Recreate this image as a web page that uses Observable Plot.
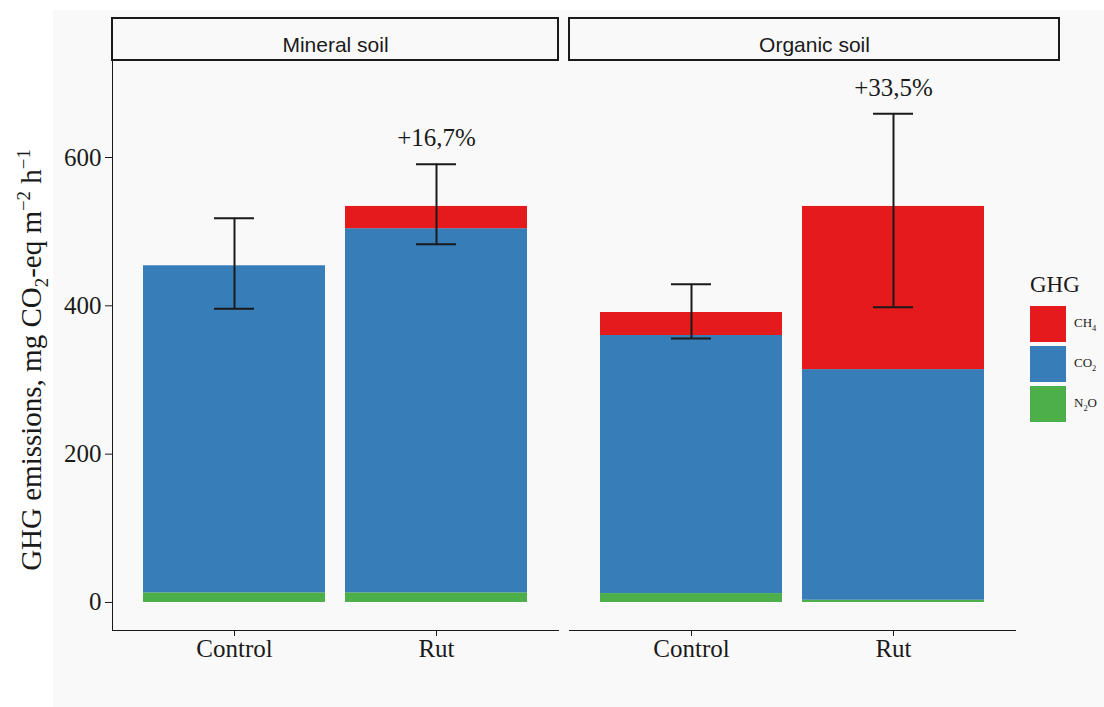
<!DOCTYPE html>
<html><head><meta charset="utf-8">
<script src="https://cdn.jsdelivr.net/npm/d3@7"></script>
<script src="https://cdn.jsdelivr.net/npm/@observablehq/plot@0.6"></script>
<style>
body{margin:0;background:#fff;}
#wrap{position:relative;width:1104px;height:707px;overflow:hidden;background:#fff;}
#bg{position:absolute;left:53px;top:10px;right:0;bottom:0;background:#f9f9f9;}
#chart{position:absolute;left:0;top:0;}
#ylab{position:absolute;left:33px;top:360px;transform:translate(-50%,-50%) rotate(-90deg);white-space:nowrap;font-size:29px;font-family:"Liberation Serif",serif;color:#1a1a1a;}
#legend{position:absolute;left:1030px;top:270px;font-family:"Liberation Serif",serif;color:#1a1a1a;}
#legend .title{font-size:23px;height:34px;line-height:30px;}
#legend .row{display:flex;align-items:center;height:40px;}
#legend .sw{width:36px;height:36px;margin-right:8px;}
#legend .lab{font-size:13px;white-space:nowrap;}
sub,sup{font-size:0.65em;}
</style>
</head><body>
<div id="wrap"><div id="bg"></div><div id="chart"></div>
<div id="ylab">GHG emissions, mg CO<sub>2</sub>-eq m<sup>−2</sup> h<sup>−1</sup></div>
<div id="legend"></div>
</div>
<script>
// ---- data ----
const soils = ["Mineral soil", "Organic soil"];
const treatments = ["Control", "Rut"];
const gases = ["CH4", "CO2", "N2O"];           // legend order (top of stack first)
const gasLabels = ["CH<sub>4</sub>", "CO<sub>2</sub>", "N<sub>2</sub>O"];
const gasColors = ["#e41a1c", "#377eb8", "#4daf4a"];
// values per soil x treatment: [Mineral Control, Mineral Rut, Organic Control, Organic Rut]
const ch4 = [0, 30, 31, 220];
const co2 = [441, 491, 348, 311];
const n2o = [13, 13, 12, 3];
const errLow = [396, 483, 356, 398];
const errHigh = [518, 591, 429, 659];
const changeLabels = ["", "+16,7%", "", "+33,5%"];

// ---- build tables ----
const cells = [];
soils.forEach(s => treatments.forEach(t => cells.push({soil: s, trt: t})));
const bars = [];
cells.forEach((c, i) => {
  bars.push({...c, gas: "N2O", value: n2o[i]});
  bars.push({...c, gas: "CO2", value: co2[i]});
  bars.push({...c, gas: "CH4", value: ch4[i]});
});
const errs = cells.map((c, i) => ({...c, lo: errLow[i], hi: errHigh[i], label: changeLabels[i]}));
const notes = errs.filter(d => d.label);

const ink = "#1a1a1a";
const plot = Plot.plot({
  width: 1104,
  height: 707,
  marginLeft: 111,
  marginRight: 89,
  marginTop: 60,
  marginBottom: 77,
  style: {background: "transparent", fontFamily: "Liberation Serif, serif", fontSize: "25px", color: ink},
  fx: {domain: soils, paddingInner: 0.0241, paddingOuter: 0, axis: null},
  x: {domain: treatments, paddingInner: 0.1, paddingOuter: 0.15, tickSize: 6, tickPadding: 3, label: null, line: true},
  y: {domain: [-37.8, 730.8], ticks: [0, 200, 400, 600], tickSize: 7, tickPadding: 4, label: null, line: true},
  color: {domain: gases, range: gasColors},
  marks: [
    Plot.barY(bars, {fx: "soil", x: "trt", y: "value", fill: "gas", order: ["N2O", "CO2", "CH4"]}),
    Plot.ruleX(errs, {fx: "soil", x: "trt", y1: "lo", y2: "hi", stroke: ink, strokeWidth: 2}),
    Plot.tickY(errs, {fx: "soil", x: "trt", y: "hi", stroke: ink, strokeWidth: 2, inset: 71}),
    Plot.tickY(errs, {fx: "soil", x: "trt", y: "lo", stroke: ink, strokeWidth: 2, inset: 71}),
    Plot.text(notes, {fx: "soil", x: "trt", y: "hi", text: "label", lineAnchor: "bottom", dy: -18, fontSize: 25, fill: ink}),
    // facet strips
    Plot.rect([soils[0]], {fx: d => d, insetTop: -42, insetBottom: 570, fill: "none", stroke: ink, strokeWidth: 2}),
    Plot.rect([soils[1]], {fx: d => d, insetTop: -42, insetBottom: 570, insetRight: -44, fill: "none", stroke: ink, strokeWidth: 2}),
    Plot.text([soils[0]], {fx: d => d, text: d => d, frameAnchor: "top", dy: -23, fontFamily: "Liberation Sans, Arial, sans-serif", fontSize: 21, fill: ink}),
    Plot.text([soils[1]], {fx: d => d, text: d => d, frameAnchor: "top", dy: -23, dx: 22, fontFamily: "Liberation Sans, Arial, sans-serif", fontSize: 21, fill: ink})
  ]
});
document.getElementById("chart").append(plot);

// legend
const lg = document.getElementById("legend");
let html = '<div class="title">GHG</div>';
gases.forEach((g, i) => {
  html += `<div class="row"><div class="sw" style="background:${gasColors[i]}"></div><div class="lab">${gasLabels[i]}</div></div>`;
});
lg.innerHTML = html;
</script>
</body></html>
